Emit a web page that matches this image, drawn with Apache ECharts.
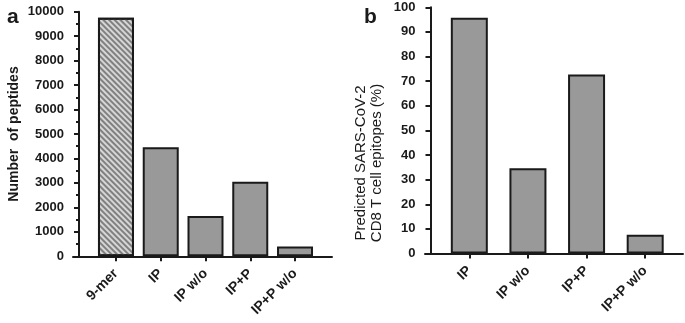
<!DOCTYPE html>
<html>
<head>
<meta charset="utf-8">
<script src="https://cdn.jsdelivr.net/npm/echarts@6/dist/echarts.min.js"></script>
<style>
  body { margin: 0; background: #fff; }
  #chart { width: 685px; height: 323px; }
</style>
</head>
<body>
<div id="chart"></div>
<script>
// panel a data
var catsA = ['9-mer', 'IP', 'IP w/o', 'IP+P', 'IP+P w/o'];
var peptides = [9750, 4460, 1650, 3050, 400];
var ticksA = { min: 0, max: 10000, interval: 1000 };

// panel b data
var catsB = ['IP', 'IP w/o', 'IP+P', 'IP+P w/o'];
var epitopes = [95.8, 34.6, 72.7, 7.6];
var ticksB = { min: 0, max: 100, interval: 10 };

var ink = '#1a1a1a';
var font = 'Liberation Sans, Arial, sans-serif';

var myChart = echarts.init(document.getElementById('chart'));

// one bar style for all, the 9-mer bar gets the hatch
var barsA = peptides.map(function (v, i) {
  if (i === 0) {
    return {
      value: v,
      itemStyle: {
        color: '#d6d6d6',
        decal: {
          symbol: 'rect',
          symbolSize: 1,
          color: '#808080',
          dashArrayX: [1, 0],
          dashArrayY: [1.5, 1.5],
          rotation: Math.PI / 4
        }
      }
    };
  }
  return v;
});

// grids: 0 baseline a, 1 y axis a, 2 bars a, 3 baseline b, 4 y axis b, 5 bars b
function lineX(grid) {
  return {
    type: 'category', gridIndex: grid, data: [''],
    axisLine: { lineStyle: { color: ink, width: 2 } },
    axisTick: { show: false }, axisLabel: { show: false }
  };
}

function blankX(grid) {
  return { type: 'category', gridIndex: grid, data: [''], show: false };
}

function barX(grid, cats) {
  return {
    type: 'category', gridIndex: grid, data: cats,
    axisLine: { show: true, lineStyle: { color: ink, width: 2 } },
    axisTick: { show: true, alignWithLabel: true, length: 5, lineStyle: { color: ink, width: 2 } },
    axisLabel: { rotate: 45, margin: 15, color: ink, fontWeight: 'bold', fontSize: 14, fontFamily: font }
  };
}

function hiddenY(grid, t) {
  return { type: 'value', gridIndex: grid, min: t.min, max: t.max, interval: t.interval, show: false };
}

var option = {
  backgroundColor: '#fff',
  animation: false,
  title: [
    { text: 'a', left: 2, top: 2, textStyle: { fontSize: 21, fontWeight: 'bold', color: ink, fontFamily: font } },
    { text: 'b', left: 359, top: 2, textStyle: { fontSize: 21, fontWeight: 'bold', color: ink, fontFamily: font } }
  ],
  grid: [
    { left: 73, right: 353, top: 11.7, bottom: 66.7 },
    { left: 79, right: 353, top: 11.7, bottom: 66.7 },
    { left: 93.6, right: 367.6, top: 11.7, bottom: 66.7 },
    { left: 425, right: 2, top: 7.3, bottom: 69.5 },
    { left: 430.5, right: 2, top: 7.3, bottom: 69.5 },
    { left: 440, right: 10.5, top: 7.3, bottom: 69.5 }
  ],
  xAxis: [lineX(0), blankX(1), barX(2, catsA), lineX(3), blankX(4), barX(5, catsB)],
  yAxis: [
    hiddenY(0, ticksA),
    {
      type: 'value', gridIndex: 1,
      min: ticksA.min, max: ticksA.max, interval: ticksA.interval,
      name: 'Number  of peptides', nameLocation: 'middle', nameGap: 58,
      nameTextStyle: { color: ink, fontWeight: 'bold', fontSize: 14, fontFamily: font },
      axisLine: { show: true, lineStyle: { color: ink, width: 2 } },
      axisTick: { show: true, length: 5, lineStyle: { color: ink, width: 2 } },
      minorTick: { show: true, splitNumber: 2, length: 3, lineStyle: { color: ink, width: 2 } },
      axisLabel: {
        color: ink, fontWeight: 'bold', fontSize: 13, fontFamily: font, margin: 15,
        formatter: function (v) { return String(v); }
      },
      splitLine: { show: false }
    },
    hiddenY(2, ticksA),
    hiddenY(3, ticksB),
    {
      type: 'value', gridIndex: 4,
      min: ticksB.min, max: ticksB.max, interval: ticksB.interval,
      axisLine: { show: true, lineStyle: { color: ink, width: 2 } },
      axisTick: { show: true, length: 5, lineStyle: { color: ink, width: 2 } },
      axisLabel: { color: ink, fontWeight: 'bold', fontSize: 13, fontFamily: font, margin: 15 },
      splitLine: { show: false }
    },
    hiddenY(5, ticksB)
  ],
  graphic: [
    {
      type: 'text', x: 369, y: 163, rotation: Math.PI / 2,
      style: {
        text: 'Predicted SARS-CoV-2\nCD8 T cell epitopes (%)',
        fill: ink, font: '15px ' + font, align: 'center', verticalAlign: 'middle', lineHeight: 16
      }
    }
  ],
  series: [
    {
      type: 'bar', xAxisIndex: 2, yAxisIndex: 2, barWidth: 36,
      itemStyle: { color: '#999999', borderColor: ink, borderWidth: 2 },
      data: barsA
    },
    {
      type: 'bar', xAxisIndex: 5, yAxisIndex: 5, barWidth: 37,
      itemStyle: { color: '#999999', borderColor: ink, borderWidth: 2 },
      data: epitopes
    }
  ]
};

myChart.setOption(option);
</script>
</body>
</html>
